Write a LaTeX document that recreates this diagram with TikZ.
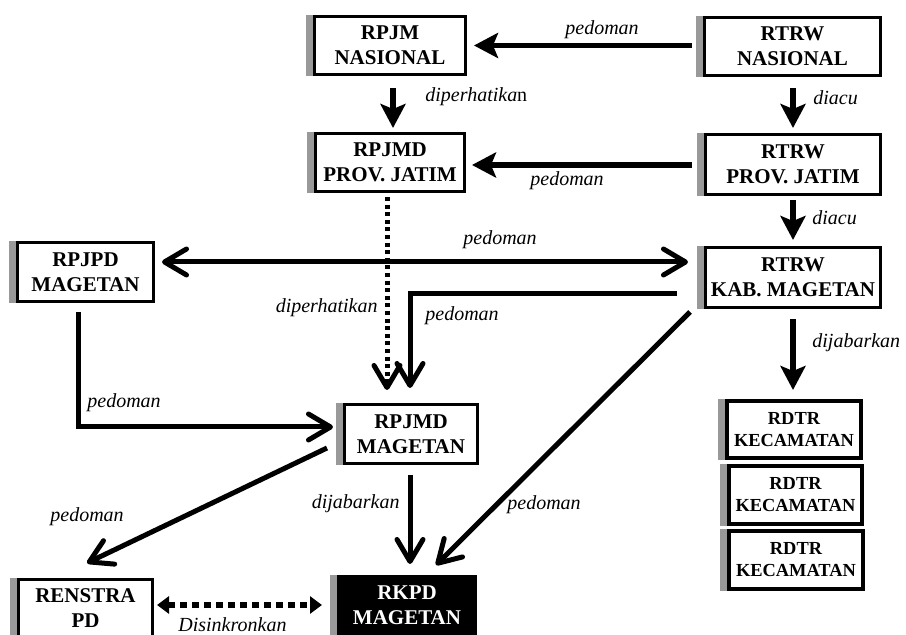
\documentclass[tikz,border=0pt]{standalone}
\usepackage{fontspec}
\setmainfont{Liberation Serif}
\usetikzlibrary{arrows.meta}
\definecolor{shadowgray}{HTML}{999999}
\tikzset{
  box/.style={draw, line width=1.5pt, fill=white, align=center, inner sep=0pt,
    font=\fontsize{10.5}{12.5}\selectfont\bfseries},
  smallbox/.style={box, line width=2pt, font=\fontsize{9.2}{11}\selectfont\bfseries},
  blackbox/.style={box, fill=black, text=white},
  lbl/.style={inner sep=0pt, font=\fontsize{10}{12}\selectfont\itshape},
  fillarrow/.style={line width=2.6pt, -{Stealth[length=12pt,width=12.5pt,inset=2.5pt]}},
  openhead/.style={line width=2.5pt},
  openarrow/.style={openhead, -{Straight Barb[length=11pt,width=13pt,round]}},
  openboth/.style={openhead, {Straight Barb[length=11pt,width=13pt,round]}-{Straight Barb[length=11pt,width=13pt,round]}},
  dotline/.style={line width=2.5pt, dash pattern=on 2pt off 1.8pt},
  dotboth/.style={line width=3pt, dash pattern=on 3.5pt off 2.5pt,
    {Triangle[length=6pt,width=8.5pt]}-{Triangle[length=6pt,width=8.5pt]}}
}
\begin{document}
\begin{tikzpicture}[x=0.5pt,y=-0.5pt]
\useasboundingbox (0,0) rectangle (906,635);

% boxes
\node[box, minimum width=75.5pt, minimum height=29pt] (RPJMN) at (390,45.5) {RPJM\\NASIONAL};
\node[box, minimum width=88pt, minimum height=29pt] (RTRWN) at (792.5,46.5) {RTRW\\NASIONAL};
\node[box, minimum width=74.5pt, minimum height=29pt] (RPJMDP) at (390,162.5) {RPJMD\\PROV. JATIM};
\node[box, minimum width=87.5pt, minimum height=30pt] (RTRWP) at (793,164.5) {RTRW\\PROV. JATIM};
\node[box, minimum width=87.5pt, minimum height=30pt] (RTRWK) at (793,277.5) {RTRW\\KAB. MAGETAN};
\node[box, minimum width=68pt, minimum height=29.5pt] (RPJPD) at (85.5,272) {RPJPD\\MAGETAN};
\node[box, minimum width=66.5pt, minimum height=29.5pt] (RPJMDM) at (411,434) {RPJMD\\MAGETAN};
\node[blackbox, minimum width=68.5pt, minimum height=29pt] (RKPD) at (407,605.5) {RKPD\\MAGETAN};
\node[box, minimum width=67pt, minimum height=29pt] (RENSTRA) at (85.5,608.5) {RENSTRA\\PD};
\node[smallbox, minimum width=67pt, minimum height=28.5pt] (RDTRa) at (794,429.5) {RDTR\\KECAMATAN};
\node[smallbox, minimum width=66.5pt, minimum height=29pt] (RDTRb) at (795.5,495) {RDTR\\KECAMATAN};
\node[smallbox, minimum width=67pt, minimum height=29pt] (RDTRc) at (796,560) {RDTR\\KECAMATAN};

% shadows
\foreach \n in {RPJMN,RTRWN,RPJMDP,RTRWP,RTRWK,RPJPD,RPJMDM,RKPD,RENSTRA,RDTRa,RDTRb,RDTRc}
  \fill[shadowgray] ([xshift=-3.6pt]\n.north west) rectangle (\n.south west);

% connectors (top part)
\draw[fillarrow] ([shift={(-11,-1)}]RTRWN.west) -- ([shift={(7,0)}]RPJMN.east);
\draw[fillarrow] ([shift={(3,12)}]RPJMN.south) -- ([shift={(3,-4)}]RPJMDP.north);
\draw[fillarrow] ([shift={(0.5,11)}]RTRWN.south) -- ([shift={(0,-5)}]RTRWP.north);
\draw[fillarrow] ([shift={(-12,0.5)}]RTRWP.west) -- ([shift={(6,2.5)}]RPJMDP.east);
\draw[fillarrow] ([shift={(0,4)}]RTRWP.south) -- ([shift={(0,-6)}]RTRWK.north);
\draw[fillarrow] ([shift={(0,10)}]RTRWK.south) -- ([shift={(-1,-9)}]RDTRa.north);

% dotted arrow
\draw[dotline] ([shift={(-3,4)}]RPJMDP.south) -- ([shift={(-24,-20)}]RPJMDM.north);
\draw[openarrow] ([shift={(-24,-24)}]RPJMDM.north) -- ([shift={(-24,-13)}]RPJMDM.north);

% open arrows
\draw[openboth] ([shift={(7,-10)}]RPJPD.east) -- ([shift={(-16,-15.5)}]RTRWK.west);
\draw[openarrow] ([shift={(-27,16.5)}]RTRWK.west) -| ([shift={(-1,-15)}]RPJMDM.north);
\draw[openarrow] ([shift={(-7.5,9)}]RPJPD.south) |- ([shift={(-10,-7)}]RPJMDM.west);
\draw[openarrow] ([shift={(-16,14)}]RPJMDM.west) -- ([shift={(1.5,-15)}]RENSTRA.north);
\draw[openarrow] ([shift={(-1,10)}]RPJMDM.south) -- ([shift={(3,-11)}]RKPD.north);
\draw[openarrow] ([shift={(-14,3)}]RTRWK.south west) -- ([shift={(29,-10)}]RKPD.north);
\draw[dotboth] ([shift={(3,-3.5)}]RENSTRA.east) -- ([shift={(-15,-0.5)}]RKPD.west);

% labels
\node[lbl, anchor=base west] (la) at (565,35) {pedoman};
\node[lbl, anchor=base west] (lb) at (425,102) {diperhatika\textup{n}};
\node[lbl, anchor=base west] (lc) at (813,105) {diacu};
\node[lbl, anchor=base west] (ld) at (530,186) {pedoman};
\node[lbl, anchor=base west] (le) at (812,225) {diacu};
\node[lbl, anchor=base west] (lg) at (463,245) {pedoman};
\node[lbl, anchor=base east] (lf) at (378,313) {diperhatikan};
\node[lbl, anchor=base west] (lh) at (425,321) {pedoman};
\node[lbl, anchor=base west] (lm) at (812,348) {dijabarkan};
\node[lbl, anchor=base west] (li) at (87,408) {pedoman};
\node[lbl, anchor=base west] (lj) at (50,522) {pedoman};
\node[lbl, anchor=base east] (lk) at (400,509) {dijabarkan};
\node[lbl, anchor=base west] (ll) at (507,510) {pedoman};
\node[lbl, anchor=base west] (ln) at (178,632) {Disinkronkan};
\end{tikzpicture}
\end{document}
